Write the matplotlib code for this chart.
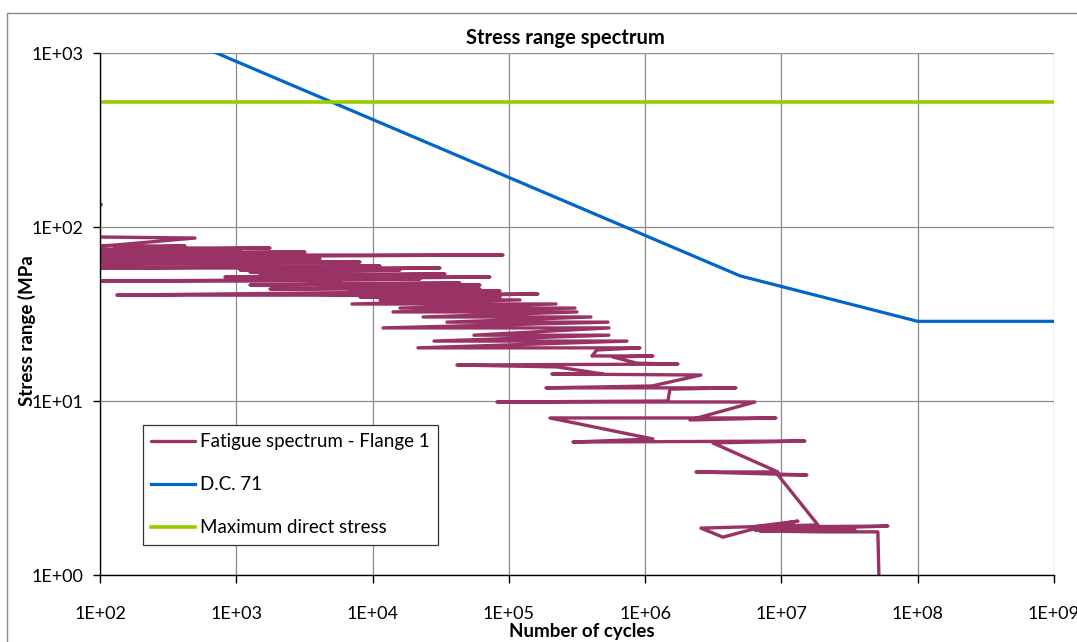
import matplotlib
matplotlib.use("Agg")
import matplotlib.pyplot as plt
from matplotlib.ticker import FixedLocator, FixedFormatter, NullLocator
from matplotlib.patches import Rectangle

# ---------------- data ----------------
nan = float('nan')
fatigue_cycles = [
    100, nan, 100, 498, 129, 100, 420, 129, 1767, 100, 1065, 118, 3192, 100, 899,
    140, 90580, 100, 899, 166, 4113, 100, 1260, 386, 8085, 100, 826, 759, 11330,
    100, 31230, 1065, 15890, 1260, 4870, 1493, 33970, 826, 72620, 2092, 22280,
    100, 5766, 3473, 43750, 1260, 61380, 4113, 51840, 1767, 61380, 6826, 86090,
    133, 15890, 1828, 163500, 8085, 86090, 11330, 120600, 7060, 221600,
    15890, 305500, 14120, 316000, 23440, 400000, 35150, 533300, 11920, 542000,
    55460, 542000, 28220, 735500, 21530, 916000,
    442700, 407000, 1140000, 580000, 871000, 1741000, 41600, 225400, 489800,
    207000, 2566000, 1122000, 187100, 4636000, 1520000, 1469000, 81780,
    6392000, 2133000, 9110000, 200300, 1140000, 295100, 14860000, 3141000,
    9420000, 2359000, 15380000, 9420000, 18530000, 2566000, 3722000, 5871000,
    13210000, 6076000, 60400000, 6392000, 34600000, 6955000, 19170000,
    51000000, 51900000,
]
fatigue_stress = [
    135.6, nan, 87.6, 86.4, 78.8, 77.8, 77.8, 75.7, 75.7, 73.8, 73.8, 71.8, 71.8, 69.9, 69.9,
    69.0, 69.0, 67.3, 67.3, 65.5, 65.5, 63.8, 63.8, 62.9, 62.9, 61.3, 61.3, 59.7, 59.7,
    58.1, 58.1, 56.6, 56.6, 55.1, 55.1, 53.7, 53.7, 51.6, 51.6, 50.2, 50.2,
    48.9, 48.9, 47.6, 47.6, 46.4, 46.4, 45.2, 45.2, 44.0, 44.0, 42.9, 42.9,
    40.6, 40.6, 41.2, 41.2, 39.6, 39.6, 38.1, 38.1, 36.1, 36.1,
    34.2, 34.2, 32.5, 32.5, 30.4, 30.4, 28.4, 28.4, 26.3, 26.3,
    23.9, 23.9, 22.1, 22.1, 20.2, 20.2,
    19.65, 18.15, 18.15, 17.9, 16.5, 16.3, 16.1, 15.7, 14.3,
    14.3, 14.1, 12.2, 11.9, 11.9, 11.7, 10.0, 9.87,
    9.87, 7.78, 7.99, 7.99, 6.05, 5.81, 5.89, 5.74,
    3.91, 3.91, 3.76, 3.76, 1.94, 1.86, 1.65, 1.815,
    2.04, 1.89, 1.91, 1.815, 1.815, 1.79, 1.77,
    1.77, 1.0,
]

dc71_cycles = [1e2, 5e6, 1e8, 1e9]
dc71_stress = [1927, 52.3, 28.7, 28.7]

maxstress_cycles = [1e2, 1e9]
maxstress_stress = [523, 523]

x_ticks = [1e2, 1e3, 1e4, 1e5, 1e6, 1e7, 1e8, 1e9]
x_tick_labels = ["1E+02", "1E+03", "1E+04", "1E+05", "1E+06", "1E+07", "1E+08", "1E+09"]
y_ticks = [1e0, 1e1, 1e2, 1e3]
y_tick_labels = ["1E+00", "1E+01", "1E+02", "1E+03"]

series_labels = ["Fatigue spectrum - Flange 1", "D.C. 71", "Maximum direct stress"]

# ---------------- figure ----------------
plt.rcParams['font.family'] = ['Lato', 'DejaVu Sans']

W, H = 1077, 642
fig = plt.figure(figsize=(W / 100, H / 100), dpi=100)
ax = fig.add_axes([100 / W, 1 - 575 / H, (1054 - 100) / W, (575 - 53) / H])

# outer chart border
fig.patches.append(Rectangle((7 / W, -0.2), 1.2, 1 - 12.5 / H + 0.2,
                             transform=fig.transFigure, fill=False,
                             edgecolor='#8a8a8a', linewidth=1.0, zorder=0))

ax.plot(fatigue_cycles, fatigue_stress, color='#993366', lw=2.4,
        solid_joinstyle='round', solid_capstyle='round', label=series_labels[0],
        marker='o', markersize=2.2, markevery=[0], zorder=3)
ax.plot(dc71_cycles, dc71_stress, color='#0066CC', lw=2.3, label=series_labels[1], zorder=4)
ax.plot(maxstress_cycles, maxstress_stress, color='#99CC00', lw=2.6, label=series_labels[2], zorder=5)

ax.set_xscale('log')
ax.set_yscale('log')
ax.set_xlim(1e2, 1e9)
ax.set_ylim(1e0, 1e3)

ax.xaxis.set_major_locator(FixedLocator(x_ticks))
ax.xaxis.set_major_formatter(FixedFormatter(x_tick_labels))
ax.xaxis.set_minor_locator(NullLocator())
ax.yaxis.set_major_locator(FixedLocator(y_ticks))
ax.yaxis.set_major_formatter(FixedFormatter(y_tick_labels))
ax.yaxis.set_minor_locator(NullLocator())

ax.grid(True, which='major', color='#8c8c8c', linewidth=0.9)
ax.set_axisbelow(True)

for s in ['top', 'right']:
    ax.spines[s].set_visible(False)
for s in ['left', 'bottom']:
    ax.spines[s].set_color('#000000')
    ax.spines[s].set_linewidth(1.0)
    ax.spines[s].set_zorder(10)

ax.tick_params(axis='y', direction='out', length=5, width=1, pad=7, labelsize=13, colors='#000000')
ax.tick_params(axis='x', direction='out', length=6, width=1, pad=16, labelsize=13, colors='#000000')

fig.text(565 / W, 1 - 38 / H, "Stress range spectrum", ha='center', va='center',
         fontsize=14.5, fontweight='bold')
fig.text(582 / W, 1 - 631 / H, "Number of cycles", ha='center', va='center',
         fontsize=13.5, fontweight='bold')
fig.text(27 / W, 1 - 331 / H, "Stress range (MPa", ha='center', va='center',
         rotation=90, fontsize=13.5, fontweight='bold')

leg = ax.legend(loc='upper left', bbox_to_anchor=(143 / W, 1 - 425 / H),
                bbox_transform=fig.transFigure, fontsize=13.5, frameon=True,
                fancybox=False, borderaxespad=0, labelspacing=1.38,
                handlelength=2.3, handletextpad=0.3, borderpad=0.45)
for ln in leg.get_lines():
    ln.set_marker('None')
leg.get_frame().set_edgecolor('#333333')
leg.get_frame().set_linewidth(0.9)
leg.get_frame().set_facecolor('white')
leg.get_frame().set_alpha(1.0)

fig.savefig("out.png", dpi=100)
